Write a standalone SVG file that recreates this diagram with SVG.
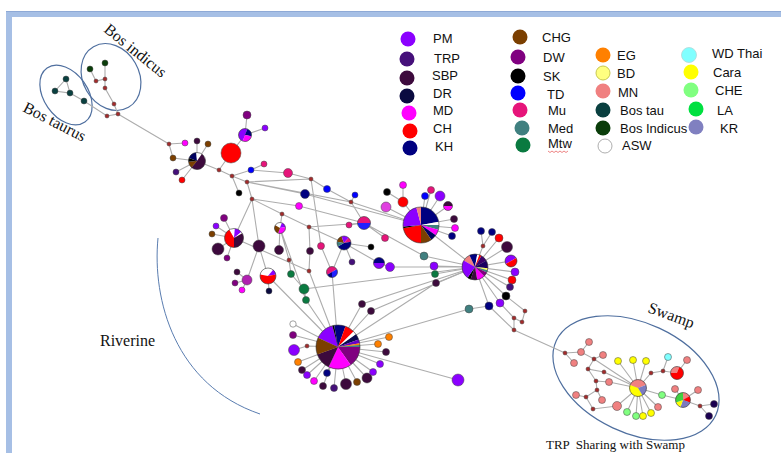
<svg xmlns="http://www.w3.org/2000/svg" xmlns:xlink="http://www.w3.org/1999/xlink" width="781" height="453" viewBox="0 0 781 453">
<style>
.e path{stroke:#adadad;stroke-width:1.1;fill:none}
.nd circle{stroke:#444;stroke-width:.5}
.po{fill:none;stroke:#333;stroke-width:.6}
.mv{fill:#a52a2a;stroke:#6e1818;stroke-width:.4}
.PM{fill:#8b00ff}.TRP{fill:#45107a}.SBP{fill:#3d0a3d}.DR{fill:#0a0a40}.MD{fill:#ff00ff}.CH{fill:#ff0000}.KH{fill:#000080}
.CHG{fill:#7b3f00}.DW{fill:#800080}.SK{fill:#000}.TD{fill:#0000ff}.Mu{fill:#e6147a}.Med{fill:#408080}.Mtw{fill:#0a7a40}
.EG{fill:#ff8000}.BD{fill:#ffff80}.MN{fill:#f08080}.BT{fill:#0a4040}.BI{fill:#0a3d0a}.ASW{fill:#fff}
.WD{fill:#80ffff}.Cara{fill:#ffff00}.CHE{fill:#80ff80}.LA{fill:#00e040}.KR{fill:#8080c0}
.lg text{font-family:"Liberation Sans",Arial,sans-serif;font-size:13px;fill:#111}
.lg circle{stroke:none}
.sf{font-family:"Liberation Serif","Times New Roman",serif;fill:#111}
</style>
<defs>
<g id="pP">
<path fill="#8b00ff" d="M0,0L-9.06,-4.23A10,10 0 0 1 -2.59,-9.66Z"/>
<path fill="#000" d="M0,0L-2.59,-9.66A10,10 0 0 1 -1.74,-9.85Z"/>
<path fill="#000080" d="M0,0L-1.74,-9.85A10,10 0 0 1 3.42,-9.40Z"/>
<path fill="#ff0000" d="M0,0L3.42,-9.40A10,10 0 0 1 7.07,-7.07Z"/>
<path fill="#fff" d="M0,0L7.07,-7.07A10,10 0 0 1 8.19,-5.74Z"/>
<path fill="#0a0a50" d="M0,0L8.19,-5.74A10,10 0 0 1 9.40,-3.42Z"/>
<path fill="#6a00c8" d="M0,0L9.40,-3.42A10,10 0 0 1 9.85,-1.74Z"/>
<path fill="#ff8000" d="M0,0L9.85,-1.74A10,10 0 0 1 9.96,-0.87Z"/>
<path fill="#408080" d="M0,0L9.96,-0.87A10,10 0 0 1 10,0Z"/>
<path fill="#800080" d="M0,0L10,0A10,10 0 0 1 5.74,8.19Z"/>
<path fill="#ff00ff" d="M0,0L5.74,8.19A10,10 0 0 1 -4.23,9.06Z"/>
<path fill="#3d0a3d" d="M0,0L-4.23,9.06A10,10 0 0 1 -9.40,3.42Z"/>
<path fill="#7b3f00" d="M0,0L-9.40,3.42A10,10 0 0 1 -9.06,-4.23Z"/>
<circle r="10" class="po" vector-effect="non-scaling-stroke"/>
</g>
<g id="pB">
<path fill="#f08080" d="M0,0L-8.66,-5A10,10 0 0 1 -4.23,-9.06Z"/>
<path fill="#000080" d="M0,0L-4.23,-9.06A10,10 0 0 1 1.74,-9.85Z"/>
<path fill="#fff" d="M0,0L1.74,-9.85A10,10 0 0 1 3.42,-9.40Z"/>
<path fill="#ff0000" d="M0,0L3.42,-9.40A10,10 0 0 1 5,-8.66Z"/>
<path fill="#3a006a" d="M0,0L5,-8.66A10,10 0 0 1 8.66,-5Z"/>
<path fill="#1a0060" d="M0,0L8.66,-5A10,10 0 0 1 9.96,0.87Z"/>
<path fill="#ffff60" d="M0,0L9.96,0.87A10,10 0 0 1 9.66,2.59Z"/>
<path fill="#408080" d="M0,0L9.66,2.59A10,10 0 0 1 9.06,4.23Z"/>
<path fill="#800080" d="M0,0L9.06,4.23A10,10 0 0 1 7.07,7.07Z"/>
<path fill="#ff00ff" d="M0,0L7.07,7.07A10,10 0 0 1 1.74,9.85Z"/>
<path fill="#3d0a3d" d="M0,0L1.74,9.85A10,10 0 0 1 -3.42,9.40Z"/>
<path fill="#000" d="M0,0L-3.42,9.40A10,10 0 0 1 -5.74,8.19Z"/>
<path fill="#8b00ff" d="M0,0L-5.74,8.19A10,10 0 0 1 -8.66,-5Z"/>
<circle r="10" class="po" vector-effect="non-scaling-stroke"/>
</g>
<g id="pC">
<path fill="#000080" d="M0,0L0,-10A10,10 0 0 1 9.85,-1.74Z"/>
<path fill="#fff" d="M0,0L9.85,-1.74A10,10 0 0 1 10,0Z"/>
<path fill="#408080" d="M0,0L10,0A10,10 0 0 1 9.66,2.59Z"/>
<path fill="#ff00ff" d="M0,0L9.66,2.59A10,10 0 0 1 8.19,5.74Z"/>
<path fill="#000060" d="M0,0L8.19,5.74A10,10 0 0 1 5.74,8.19Z"/>
<path fill="#7b3f00" d="M0,0L5.74,8.19A10,10 0 0 1 0,10Z"/>
<path fill="#ff0000" d="M0,0L0,10A10,10 0 0 1 -9.85,1.74Z"/>
<path fill="#000" d="M0,0L-9.85,1.74A10,10 0 0 1 -9.96,0.87Z"/>
<path fill="#8b00ff" d="M0,0L-9.96,0.87A10,10 0 0 1 -2.59,-9.66Z"/>
<path fill="#f08080" d="M0,0L-2.59,-9.66A10,10 0 0 1 0,-10Z"/>
<circle r="10" class="po" vector-effect="non-scaling-stroke"/>
</g>
<g id="pA">
<path fill="#000060" d="M0,0L-9.40,-3.42A10,10 0 0 1 -0.87,-9.96Z"/>
<path fill="#fff" d="M0,0L-0.87,-9.96A10,10 0 0 1 5.74,-8.19Z"/>
<path fill="#3d0a3d" d="M0,0L5.74,-8.19A10,10 0 1 1 -6.43,7.66Z"/>
<path fill="#7b3f00" d="M0,0L-6.43,7.66A10,10 0 0 1 -9.96,0.87Z"/>
<path fill="#000" d="M0,0L-9.96,0.87A10,10 0 0 1 -9.40,-3.42Z"/>
<circle r="10" class="po" vector-effect="non-scaling-stroke"/>
</g>
<g id="pF">
<path fill="#8b00ff" d="M0,0L-3.42,9.40A10,10 0 0 1 3.42,-9.40Z"/>
<path fill="#000080" d="M0,0L3.42,-9.40A10,10 0 0 1 9.85,1.74Z"/>
<path fill="#ff00ff" d="M0,0L9.85,1.74A10,10 0 0 1 -3.42,9.40Z"/>
<circle r="10" class="po" vector-effect="non-scaling-stroke"/>
</g>
<g id="pD">
<path fill="#fff" d="M0,0L-5,-8.66A10,10 0 0 1 0.87,-9.96Z"/>
<path fill="#8b00ff" d="M0,0L0.87,-9.96A10,10 0 0 1 7.66,-6.43Z"/>
<path fill="#fff" d="M0,0L7.66,-6.43A10,10 0 0 1 8.66,-5Z"/>
<path fill="#3d0a3d" d="M0,0L8.66,-5A10,10 0 0 1 0,10Z"/>
<path fill="#ff0000" d="M0,0L0,10A10,10 0 0 1 -5,-8.66Z"/>
<circle r="10" class="po" vector-effect="non-scaling-stroke"/>
</g>
<g id="pE">
<path fill="#fff" d="M0,0L-9.85,-1.74A10,10 0 0 1 6.43,-7.66Z"/>
<path fill="#8b00ff" d="M0,0L6.43,-7.66A10,10 0 0 1 9.85,-1.74Z"/>
<path fill="#ff0000" d="M0,0L9.85,-1.74A10,10 0 1 1 -9.85,-1.74Z"/>
<circle r="10" class="po" vector-effect="non-scaling-stroke"/>
</g>
<g id="pG">
<path fill="#fff" d="M0,0L-8.66,-5A10,10 0 0 1 3.42,-9.40Z"/>
<path fill="#8b00ff" d="M0,0L3.42,-9.40A10,10 0 0 1 9.85,-1.74Z"/>
<path fill="#ff00ff" d="M0,0L9.85,-1.74A10,10 0 0 1 -3.42,9.40Z"/>
<path fill="#7b3f00" d="M0,0L-3.42,9.40A10,10 0 0 1 -8.66,-5Z"/>
<circle r="10" class="po" vector-effect="non-scaling-stroke"/>
</g>
<g id="pH">
<path fill="#e6147a" d="M-10,0A10,10 0 0 1 10,0Z"/>
<path fill="#2020ff" d="M10,0A10,10 0 0 1 -10,0Z"/>
<circle r="10" class="po" vector-effect="non-scaling-stroke"/>
</g>
<g id="pI">
<path fill="#7b3f00" d="M0,0L-9.85,-1.74A10,10 0 0 1 -3.42,-9.40Z"/>
<path fill="#8b00ff" d="M0,0L-3.42,-9.40A10,10 0 0 1 6.43,-7.66Z"/>
<path fill="#e6147a" d="M0,0L6.43,-7.66A10,10 0 0 1 9.85,-1.74Z"/>
<path fill="#000080" d="M0,0L9.85,-1.74A10,10 0 0 1 -8.66,5Z"/>
<path fill="#408080" d="M0,0L-8.66,5A10,10 0 0 1 -9.85,-1.74Z"/>
<circle r="10" class="po" vector-effect="non-scaling-stroke"/>
</g>
<g id="pJ">
<path fill="#e6147a" d="M0,0L-8.66,5A10,10 0 0 1 8.66,-5Z"/>
<path fill="#2020ff" d="M0,0L8.66,-5A10,10 0 0 1 0,10Z"/>
<path fill="#000080" d="M0,0L0,10A10,10 0 0 1 -8.66,5Z"/>
<circle r="10" class="po" vector-effect="non-scaling-stroke"/>
</g>
<g id="pK">
<path fill="#3d0a3d" d="M-10,0A10,10 0 0 1 10,0Z"/>
<path fill="#ff00ff" d="M10,0A10,10 0 0 1 -10,0Z"/>
<circle r="10" class="po" vector-effect="non-scaling-stroke"/>
</g>
<g id="pL">
<path fill="#8b00ff" d="M0,0L-8.66,5A10,10 0 0 1 8.66,-5Z"/>
<path fill="#ff0000" d="M0,0L8.66,-5A10,10 0 0 1 -8.66,5Z"/>
<circle r="10" class="po" vector-effect="non-scaling-stroke"/>
</g>
<g id="pM">
<path fill="#000080" d="M-10,0A10,10 0 0 1 10,0Z"/>
<path fill="#8b00ff" d="M10,0A10,10 0 0 1 -10,0Z"/>
<circle r="10" class="po" vector-effect="non-scaling-stroke"/>
</g>
<g id="pS1">
<path fill="#f08080" d="M0,0L-9.40,-3.42A10,10 0 0 1 9.40,-3.42Z"/>
<path fill="#7b7bc0" d="M0,0L9.40,-3.42A10,10 0 0 1 5,8.66Z"/>
<path fill="#ffff00" d="M0,0L5,8.66A10,10 0 0 1 -9.40,-3.42Z"/>
<circle r="10" class="po" vector-effect="non-scaling-stroke"/>
</g>
<g id="pS2">
<path fill="#f08080" d="M0,0L0,-10A10,10 0 0 1 8.66,-5Z"/>
<path fill="#ff0000" d="M0,0L8.66,-5A10,10 0 0 1 9.40,3.42Z"/>
<path fill="#7b7bc0" d="M0,0L9.40,3.42A10,10 0 0 1 -3.42,9.40Z"/>
<path fill="#ffff00" d="M0,0L-3.42,9.40A10,10 0 0 1 -9.40,3.42Z"/>
<path fill="#40d040" d="M0,0L-9.40,3.42A10,10 0 0 1 0,-10Z"/>
<circle r="10" class="po" vector-effect="non-scaling-stroke"/>
</g>
<g id="pS3">
<path fill="#f08080" d="M0,0L-10,0A10,10 0 0 1 3.42,-9.40Z"/>
<path fill="#ff0000" d="M0,0L3.42,-9.40A10,10 0 1 1 -10,0Z"/>
<circle r="10" class="po" vector-effect="non-scaling-stroke"/>
</g>
</defs>
<rect width="781" height="453" fill="#fff"/>
<!-- slide frame -->
<rect x="6" y="11" width="775" height="6" fill="#a6bfe5"/>
<rect x="6" y="11" width="6" height="442" fill="#a6bfe5"/>
<rect x="6" y="11" width="775" height="1" fill="#8ea9d6"/>
<!-- group outlines -->
<g fill="none" stroke="#4f6f9f" stroke-width="1.2">
<ellipse cx="66" cy="95" rx="22" ry="33" transform="rotate(-35 66 95)"/>
<ellipse cx="111" cy="77" rx="28" ry="35" transform="rotate(-30 111 77)"/>
<ellipse cx="636" cy="378" rx="88" ry="55" transform="rotate(25 636 378)"/>
<path d="M158,238C152,300 175,385 260,414" stroke="#5a7db0" stroke-width="1"/>
</g>
<text class="sf" font-size="16" transform="translate(103,31) rotate(39)">Bos indicus</text>
<text class="sf" font-size="16" transform="translate(22,111) rotate(27)">Bos taurus</text>
<text class="sf" font-size="16" transform="translate(647,312) rotate(20)">Swamp</text>
<text class="sf" font-size="16" x="100" y="346">Riverine</text>
<text class="sf" font-size="13" x="546" y="449" style="white-space:pre">TRP  Sharing with Swamp</text>
<!-- connectors -->
<g id="edges" class="e">
<path d="M66,79L55,91L70,93Z M70,93L84,101L107,116L118,114L114,104L105,88L105,79L96,81L90,69 M105,79L105,63 M118,114L169,144"/>
<path d="M169,144L185,143 M169,144L173,158L197,161 M197,161L197,141 M197,161L208,144 M197,161L176,172 M197,161L182,180 M197,161L219,170L232,176 M219,170L231,153L245,135L247,115 M245,135L265,128"/>
<path d="M232,176L247,182 M232,176L239,193 M232,176L251,170L288,173L311,179 M251,170L264,164 M311,179L327,189L351,202 M311,179L321,246L332,272 M247,182L311,179 M247,182L351,202 M247,182L252,199L282,214L309,227L364,223 M247,182L305,194L421,225 M252,199L299,206L364,223 M252,199L234,238 M252,199L259,246"/>
<path d="M282,214L280,228L279,250 M280,228L289,260L291,274 M280,228L306,300 M309,227L310,251L309,271 M309,227L344,243 M351,202L355,195 M351,202L421,225 M351,202L364,223"/>
<path d="M234,238L224,218 M234,238L216,226 M234,238L212,234 M234,238L218,249 M234,238L227,258 M234,238L309,271 M259,246L268,276 M259,246L247,280 M247,280L237,272 M247,280L235,283 M247,280L242,290 M268,276L269,291 M268,276L338,347"/>
<path d="M291,274L304,289L306,300L338,347 M304,289L475,267 M293,324L338,347 M309,271L338,347 M332,272L338,347"/>
<path d="M338,347L293,335 M338,347L307,346L294,350 M338,347L298,362 M338,347L302,370 M338,347L307,375 M338,347L314,381 M338,347L327,373 M338,347L323,386 M338,347L334,388 M338,347L346,384 M338,347L357,382 M338,347L367,378 M338,347L373,372 M338,347L380,364 M338,347L386,352 M338,347L378,344 M338,347L389,337 M338,347L362,304L475,267 M338,347L371,311L475,267 M338,347L469,309L489,306 M338,347L458,380 M338,347L436,283"/>
<path d="M421,225L403,202L387,192 M403,202L403,185 M421,225L386,207 M421,225L425,196 M421,225L431,190 M421,225L440,196 M421,225L448,206 M421,225L454,219 M421,225L455,228 M421,225L452,236 M421,225L475,267"/>
<path d="M364,223L349,225 M364,223L385,238 M364,223L424,256L475,267 M344,243L371,247 M344,243L379,263L390,267 M344,243L352,262 M344,243L332,272"/>
<path d="M475,267L483,246L481,231 M483,246L492,232 M475,267L499,238 M475,267L507,247 M475,267L511,261 M475,267L515,272 M475,267L512,280 M475,267L510,287 M475,267L506,296 M475,267L500,303 M475,267L489,306 M475,267L434,266 M475,267L435,274 M475,267L436,283 M475,267L390,267"/>
<path d="M506,296L525,311L522,322 M500,303L514,318L522,322 M514,318L514,330 M489,306L514,330 M514,330L565,353"/>
<path d="M565,353L581,352L589,342 M565,353L574,363 M581,352L594,359L603,355 M594,359L588,369L604,372L638,388 M594,359L638,388 M588,369L596,381L609,382L638,388 M596,381L597,390L586,397L576,395 M586,397L593,409L617,406L638,388 M597,390L602,400"/>
<path d="M638,388L618,361 M638,388L633,360 M638,388L646,361 M638,388L627,412 M638,388L636,416 M638,388L643,416 M638,388L651,413 M638,388L658,407 M638,388L662,395L683,400 M638,388L651,373L663,371L677,373L687,360 M663,371L668,357 M675,389L683,400L698,390 M683,400L700,406L714,404 M700,406L709,416"/>
</g>
<!-- nodes -->
<g class="nd">
<g id="bt1"><circle class="BT" cx="66" cy="79" r="3"/></g>
<g id="bt2"><circle class="BT" cx="55" cy="91" r="3"/></g>
<g id="bt3"><circle class="BT" cx="70" cy="93" r="3"/></g>
<g id="bt4"><circle class="BT" cx="84" cy="101" r="3"/></g>
<g id="bi1"><circle class="BI" cx="90" cy="69" r="3"/></g>
<g id="bi2"><circle class="BI" cx="105" cy="63" r="3"/></g>
<g id="mv1"><circle class="mv" cx="96" cy="81" r="2"/></g>
<g id="mv2"><circle class="mv" cx="105" cy="79" r="2"/></g>
<g id="mv3"><circle class="mv" cx="105" cy="88" r="2"/></g>
<g id="mv4"><circle class="mv" cx="114" cy="104" r="2"/></g>
<g id="mv5"><circle class="mv" cx="107" cy="116" r="2"/></g>
<g id="mv6"><circle class="mv" cx="118" cy="114" r="2"/></g>
<g id="mv7"><circle class="mv" cx="169" cy="144" r="2"/></g>
<g id="r1"><circle class="MD" cx="185" cy="143" r="3"/></g>
<g id="r2"><circle class="SBP" cx="197" cy="141" r="3"/></g>
<g id="r3"><circle class="CHG" cx="208" cy="144" r="3"/></g>
<g id="r4"><circle class="CHG" cx="173" cy="158" r="3"/></g>
<g id="r5"><circle class="TRP" cx="176" cy="172" r="3"/></g>
<g id="r6"><circle class="CH" cx="182" cy="180" r="3"/></g>
<g id="pieA"><use xlink:href="#pA" transform="translate(197,161) scale(0.85)"/></g>
<g id="r7"><circle class="CH" cx="231" cy="153" r="10"/></g>
<g id="pieF"><use xlink:href="#pF" transform="translate(245,135) scale(0.65)"/></g>
<g id="r8"><circle class="DW" cx="247" cy="115" r="4"/></g>
<g id="r9"><circle class="PM" cx="265" cy="128" r="3"/></g>
<g id="mv8"><circle class="mv" cx="219" cy="170" r="2"/></g>
<g id="mv9"><circle class="mv" cx="232" cy="176" r="2"/></g>
<g id="mv10"><circle class="mv" cx="247" cy="182" r="2"/></g>
<g id="r10"><circle class="TD" cx="251" cy="170" r="3"/></g>
<g id="r11"><circle class="Mu" cx="264" cy="164" r="3"/></g>
<g id="r12"><circle class="Mu" cx="288" cy="173" r="4.5"/></g>
<g id="mv11"><circle class="mv" cx="311" cy="179" r="2"/></g>
<g id="r13"><circle class="TD" cx="327" cy="189" r="3.5"/></g>
<g id="r14"><circle class="KH" cx="305" cy="194" r="4.5"/></g>
<g id="r15"><circle class="MD" cx="299" cy="206" r="3.5"/></g>
<g id="r16"><circle class="SK" cx="239" cy="193" r="3"/></g>
<g id="mv12"><circle class="mv" cx="252" cy="199" r="2"/></g>
<g id="mv13"><circle class="mv" cx="282" cy="214" r="2"/></g>
<g id="mv14"><circle class="mv" cx="309" cy="227" r="2"/></g>
<g id="pieG"><use xlink:href="#pG" transform="translate(280,228) scale(0.55)"/></g>
<g id="pieD"><use xlink:href="#pD" transform="translate(234,238) scale(0.95)"/></g>
<g id="r17"><circle class="DW" cx="224" cy="218" r="3.5"/></g>
<g id="r18"><circle class="PM" cx="216" cy="226" r="3"/></g>
<g id="r19"><circle class="CHG" cx="212" cy="234" r="3"/></g>
<g id="r20"><circle class="SBP" cx="218" cy="249" r="6"/></g>
<g id="r21"><circle class="DW" cx="227" cy="258" r="3"/></g>
<g id="r22"><circle class="SBP" cx="259" cy="246" r="6"/></g>
<g id="r23"><circle class="SBP" cx="279" cy="250" r="4.5"/></g>
<g id="r24"><circle class="SBP" cx="310" cy="251" r="3.5"/></g>
<g id="r25"><circle class="Mu" cx="321" cy="246" r="3.5"/></g>
<g id="mv15"><circle class="mv" cx="289" cy="260" r="2"/></g>
<g id="mv16"><circle class="mv" cx="309" cy="271" r="2"/></g>
<g id="pieE"><use xlink:href="#pE" transform="translate(268,276) scale(0.8)"/></g>
<g id="r26"><circle class="DR" cx="269" cy="291" r="3"/></g>
<g id="r27"><circle fill="#b020b0" cx="247" cy="280" r="5"/></g>
<g id="r28"><circle class="SBP" cx="237" cy="272" r="3"/></g>
<g id="r29"><circle class="DW" cx="235" cy="283" r="3"/></g>
<g id="r30"><circle class="MD" cx="242" cy="290" r="3"/></g>
<g id="r31"><circle class="Mtw" cx="291" cy="274" r="3.5"/></g>
<g id="r32"><circle class="Mtw" cx="304" cy="289" r="5"/></g>
<g id="r33"><circle class="Mtw" cx="306" cy="300" r="3.5"/></g>
<g id="r34"><circle class="ASW" cx="293" cy="324" r="3.2"/></g>
<g id="r35"><circle class="DW" cx="293" cy="335" r="3.5"/></g>
<g id="mv17"><circle class="mv" cx="307" cy="346" r="2"/></g>
<g id="r36"><circle class="PM" cx="294" cy="350" r="5.5"/></g>
<g id="r37"><circle class="EG" cx="298" cy="362" r="3.5"/></g>
<g id="r38"><circle class="SBP" cx="302" cy="370" r="3.5"/></g>
<g id="r39"><circle class="PM" cx="307" cy="375" r="3.5"/></g>
<g id="r40"><circle class="MD" cx="314" cy="381" r="3.5"/></g>
<g id="r41"><circle class="KH" cx="327" cy="373" r="3.5"/></g>
<g id="r42"><circle class="SBP" cx="323" cy="386" r="3.5"/></g>
<g id="r43"><circle class="TRP" cx="334" cy="388" r="3.5"/></g>
<g id="r44"><circle class="SBP" cx="346" cy="384" r="5.5"/></g>
<g id="r45"><circle class="CHG" cx="357" cy="382" r="3.5"/></g>
<g id="r46"><circle class="SBP" cx="367" cy="378" r="5"/></g>
<g id="r47"><circle class="PM" cx="373" cy="372" r="3.5"/></g>
<g id="r48"><circle class="PM" cx="380" cy="364" r="3.5"/></g>
<g id="r49"><circle class="SBP" cx="386" cy="352" r="3.5"/></g>
<g id="r50"><circle class="EG" cx="378" cy="344" r="3.5"/></g>
<g id="r51"><circle class="EG" cx="389" cy="337" r="3.5"/></g>
<g id="r52"><circle class="SBP" cx="371" cy="311" r="3.5"/></g>
<g id="r53"><circle class="SBP" cx="362" cy="304" r="3.5"/></g>
<g id="r54"><circle class="PM" cx="458" cy="380" r="6"/></g>
<g id="pieP"><use xlink:href="#pP" transform="translate(338,347) scale(2.2)"/></g>
<g id="pieC"><use xlink:href="#pC" transform="translate(421,225) scale(1.8)"/></g>
<g id="c1"><circle class="CH" cx="403" cy="202" r="5"/></g>
<g id="c2"><circle class="SK" cx="387" cy="192" r="3.5"/></g>
<g id="c3"><circle class="MD" cx="403" cy="185" r="3.5"/></g>
<g id="c4"><circle fill="#e040e0" cx="386" cy="207" r="5"/></g>
<g id="c5"><circle class="TD" cx="425" cy="196" r="3.5"/></g>
<g id="c6"><circle class="Mu" cx="431" cy="190" r="3.5"/></g>
<g id="c7"><circle class="PM" cx="440" cy="196" r="5"/></g>
<g id="pieK"><use xlink:href="#pK" transform="translate(448,206) scale(0.45)"/></g>
<g id="c8"><circle class="SBP" cx="454" cy="219" r="3.5"/></g>
<g id="c9"><circle class="MD" cx="455" cy="228" r="3.5"/></g>
<g id="c10"><circle class="KH" cx="452" cy="236" r="3.5"/></g>
<g id="pieH"><use xlink:href="#pH" transform="translate(364,223) scale(0.65)"/></g>
<g id="c11"><circle class="Mu" cx="349" cy="225" r="3"/></g>
<g id="c12"><circle class="TD" cx="355" cy="195" r="3"/></g>
<g id="mv18"><circle class="mv" cx="351" cy="202" r="2"/></g>
<g id="pieI"><use xlink:href="#pI" transform="translate(344,243) scale(0.7)"/></g>
<g id="c13"><circle class="Mu" cx="385" cy="238" r="3.5"/></g>
<g id="c14"><circle class="SK" cx="371" cy="247" r="3"/></g>
<g id="c15"><circle class="Med" cx="424" cy="256" r="4"/></g>
<g id="pieM"><use xlink:href="#pM" transform="translate(379,263) scale(0.55)"/></g>
<g id="c16"><circle class="PM" cx="390" cy="267" r="4.5"/></g>
<g id="c17"><circle class="TRP" cx="352" cy="262" r="3"/></g>
<g id="pieJ"><use xlink:href="#pJ" transform="translate(332,272) scale(0.55)"/></g>
<g id="pieB"><use xlink:href="#pB" transform="translate(475,267) scale(1.3)"/></g>
<g id="d1"><circle class="KH" cx="481" cy="231" r="3.5"/></g>
<g id="d2"><circle class="KH" cx="492" cy="232" r="3.5"/></g>
<g id="mv19"><circle class="mv" cx="483" cy="246" r="2"/></g>
<g id="d3"><circle class="CH" cx="499" cy="238" r="4"/></g>
<g id="d4"><circle class="SBP" cx="507" cy="247" r="5.5"/></g>
<g id="pieL"><use xlink:href="#pL" transform="translate(511,261) scale(0.6)"/></g>
<g id="d5"><circle class="PM" cx="515" cy="272" r="4"/></g>
<g id="d6"><circle class="CH" cx="512" cy="280" r="4"/></g>
<g id="d7"><circle class="TRP" cx="510" cy="287" r="3.5"/></g>
<g id="d8"><circle class="SK" cx="506" cy="296" r="4"/></g>
<g id="d9"><circle class="PM" cx="500" cy="303" r="4"/></g>
<g id="d10"><circle class="KH" cx="489" cy="306" r="4"/></g>
<g id="d11"><circle class="Med" cx="469" cy="309" r="4"/></g>
<g id="d12"><circle class="PM" cx="434" cy="266" r="4"/></g>
<g id="d13"><circle class="Mtw" cx="435" cy="274" r="3.5"/></g>
<g id="d14"><circle class="SBP" cx="436" cy="283" r="3.5"/></g>
<g id="mv20"><circle class="mv" cx="525" cy="311" r="2"/></g>
<g id="mv21"><circle class="mv" cx="514" cy="318" r="2"/></g>
<g id="mv22"><circle class="mv" cx="522" cy="322" r="2"/></g>
<g id="mv23"><circle class="mv" cx="514" cy="330" r="2"/></g>
<!-- swamp -->
<g id="smv1"><circle class="mv" cx="565" cy="353" r="2"/></g>
<g id="smv2"><circle class="mv" cx="594" cy="359" r="2"/></g>
<g id="smv3"><circle class="mv" cx="588" cy="369" r="2"/></g>
<g id="smv4"><circle class="mv" cx="604" cy="372" r="2"/></g>
<g id="smv5"><circle class="mv" cx="596" cy="381" r="2"/></g>
<g id="smv6"><circle class="mv" cx="597" cy="390" r="2"/></g>
<g id="smv7"><circle class="mv" cx="586" cy="397" r="2"/></g>
<g id="smv8"><circle class="mv" cx="593" cy="409" r="2"/></g>
<g id="smv9"><circle class="mv" cx="651" cy="373" r="2"/></g>
<g id="smv10"><circle class="mv" cx="663" cy="371" r="2"/></g>
<g id="smv11"><circle class="mv" cx="700" cy="406" r="2"/></g>
<g id="s1"><circle class="MN" cx="589" cy="342" r="3.5"/></g>
<g id="s2"><circle class="MN" cx="581" cy="352" r="3.5"/></g>
<g id="s3"><circle class="MN" cx="574" cy="363" r="3.5"/></g>
<g id="s4"><circle class="MN" cx="603" cy="355" r="3.5"/></g>
<g id="s5"><circle class="MN" cx="609" cy="382" r="3.5"/></g>
<g id="s6"><circle class="MN" cx="576" cy="395" r="3.5"/></g>
<g id="s7"><circle class="MN" cx="602" cy="400" r="3.5"/></g>
<g id="s8"><circle class="MN" cx="617" cy="406" r="4.5"/></g>
<g id="s9"><circle class="MN" cx="658" cy="407" r="3.5"/></g>
<g id="s10"><circle class="MN" cx="675" cy="389" r="3.5"/></g>
<g id="s11"><circle class="MN" cx="698" cy="390" r="3.5"/></g>
<g id="s12"><circle class="MN" cx="687" cy="360" r="3.5"/></g>
<g id="s13"><circle class="Cara" cx="618" cy="361" r="3.5"/></g>
<g id="s14"><circle class="Cara" cx="633" cy="360" r="3.5"/></g>
<g id="s15"><circle class="Cara" cx="646" cy="361" r="3.5"/></g>
<g id="s16"><circle class="Cara" cx="651" cy="413" r="3.5"/></g>
<g id="s17"><circle class="Cara" cx="643" cy="416" r="3.5"/></g>
<g id="s18"><circle class="CHE" cx="627" cy="412" r="3.5"/></g>
<g id="s19"><circle class="CHE" cx="636" cy="416" r="3.5"/></g>
<g id="s20"><circle class="CHE" cx="662" cy="395" r="3.5"/></g>
<g id="s21"><circle class="WD" cx="668" cy="357" r="3.5"/></g>
<g id="s22"><circle fill="#1a0050" cx="714" cy="404" r="3.5"/></g>
<g id="s23"><circle fill="#1a0050" cx="709" cy="416" r="3.5"/></g>
<g id="pieS1"><use xlink:href="#pS1" transform="translate(638,388) scale(0.85)"/></g>
<g id="pieS2"><use xlink:href="#pS2" transform="translate(683,400) scale(0.75)"/></g>
<g id="pieS3"><use xlink:href="#pS3" transform="translate(677,373) scale(0.65)"/></g>
</g>
<!-- legend -->
<g class="lg" id="legend">
<g id="lg-PM"><circle class="PM" cx="408" cy="39" r="7.5"/><text x="433" y="43">PM</text></g>
<g id="lg-TRP"><circle class="TRP" cx="407" cy="59" r="7.5"/><text x="434" y="63">TRP</text></g>
<g id="lg-SBP"><circle class="SBP" cx="407" cy="78" r="7.5"/><text x="432" y="80">SBP</text></g>
<g id="lg-DR"><circle class="DR" cx="407" cy="96" r="7.5"/><text x="433" y="98">DR</text></g>
<g id="lg-MD"><circle class="MD" cx="409" cy="113" r="7.5"/><text x="433" y="115">MD</text></g>
<g id="lg-CH"><circle class="CH" cx="410" cy="131" r="7.5"/><text x="433" y="133">CH</text></g>
<g id="lg-KH"><circle class="KH" cx="410" cy="148" r="7.5"/><text x="435" y="151">KH</text></g>
<g id="lg-CHG"><circle class="CHG" cx="520" cy="37" r="7.5"/><text x="542" y="42">CHG</text></g>
<g id="lg-DW"><circle class="DW" cx="518" cy="57" r="7.5"/><text x="543" y="62">DW</text></g>
<g id="lg-SK"><circle class="SK" cx="518" cy="76" r="7.5"/><text x="543" y="81">SK</text></g>
<g id="lg-TD"><circle class="TD" cx="518" cy="93" r="7.5"/><text x="547" y="99">TD</text></g>
<g id="lg-Mu"><circle class="Mu" cx="520" cy="110" r="7.5"/><text x="548" y="115">Mu</text></g>
<g id="lg-Med"><circle class="Med" cx="522" cy="128" r="7.5"/><text x="548" y="133">Med</text></g>
<g id="lg-Mtw"><circle class="Mtw" cx="523" cy="145" r="7.5"/><text x="548" y="148">Mtw</text>
<path d="M548,151l2,1.5l2,-1.5l2,1.5l2,-1.5l2,1.5l2,-1.5l2,1.5l2,-1.5l2,1.5l2,-1.5" fill="none" stroke="#e03030" stroke-width=".6"/></g>
<g id="lg-EG"><circle class="EG" cx="603" cy="55" r="7.5"/><text x="617" y="60">EG</text></g>
<g id="lg-BD"><circle class="BD" cx="603" cy="73" r="7" style="stroke:#c8c850;stroke-width:1"/><text x="617" y="78">BD</text></g>
<g id="lg-MN"><circle class="MN" cx="603" cy="91" r="7.5"/><text x="618" y="97">MN</text></g>
<g id="lg-BT"><circle class="BT" cx="603" cy="110" r="7.5"/><text x="620" y="115">Bos tau</text></g>
<g id="lg-BI"><circle class="BI" cx="603" cy="128" r="7.5"/><text x="620" y="133">Bos Indicus</text></g>
<g id="lg-ASW"><circle class="ASW" cx="605" cy="146" r="7" style="stroke:#999;stroke-width:.8"/><text x="622" y="150">ASW</text></g>
<g id="lg-WD"><circle class="WD" cx="689" cy="55" r="7.5" style="stroke:#b0d8d8;stroke-width:.8"/><text x="712" y="58">WD Thai</text></g>
<g id="lg-Cara"><circle class="Cara" cx="691" cy="72" r="7.5"/><text x="713" y="77">Cara</text></g>
<g id="lg-CHE"><circle class="CHE" cx="691" cy="90" r="7.5"/><text x="715" y="95">CHE</text></g>
<g id="lg-LA"><circle class="LA" cx="696" cy="109" r="7.5"/><text x="717" y="115">LA</text></g>
<g id="lg-KR"><circle class="KR" cx="696" cy="127" r="7.5"/><text x="720" y="133">KR</text></g>
</g>
</svg>
